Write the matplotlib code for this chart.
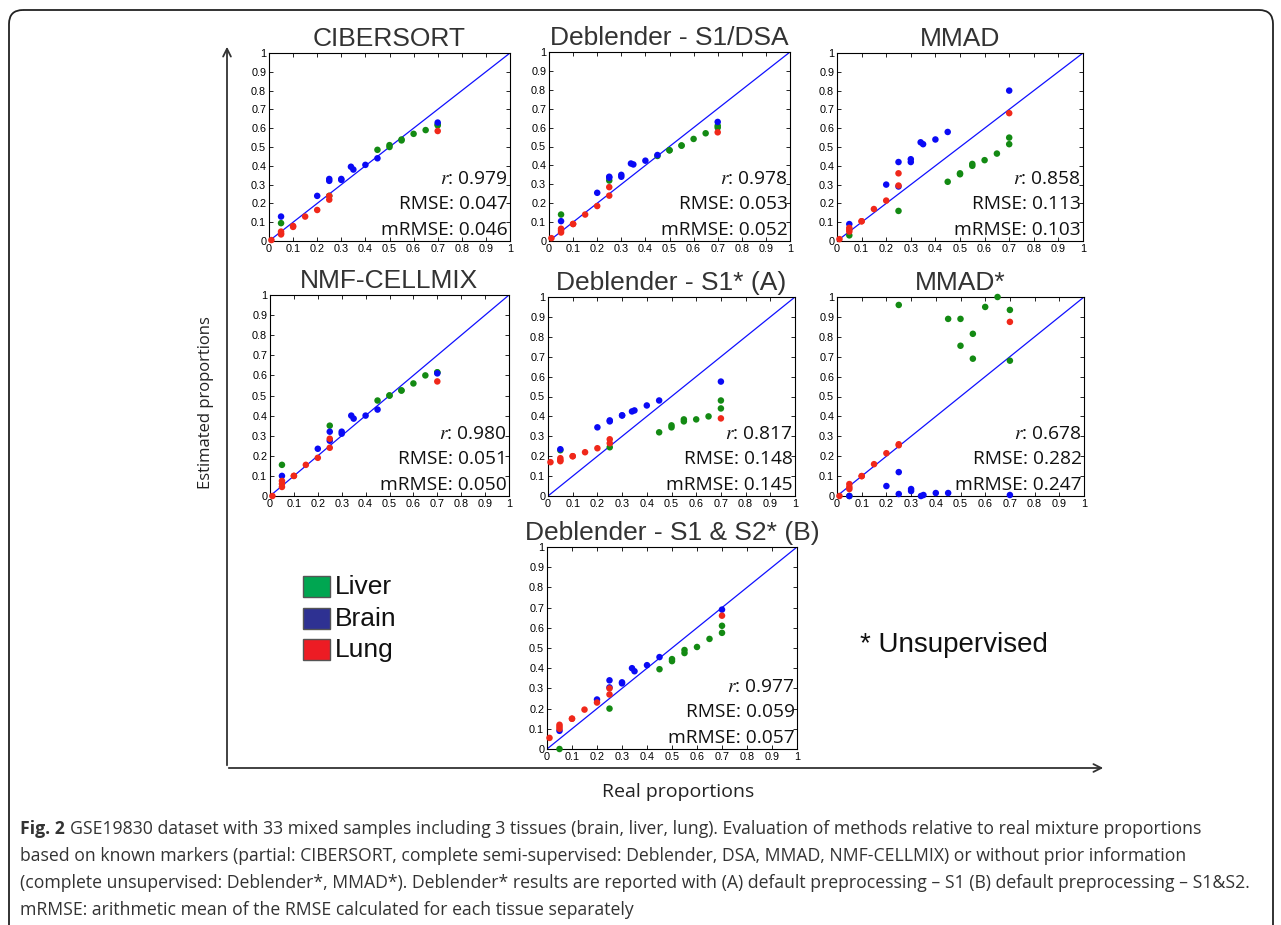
import matplotlib
matplotlib.use("Agg")
import matplotlib.pyplot as plt
from matplotlib.patches import FancyBboxPatch, Rectangle

plt.rcParams['mathtext.fontset'] = 'stix'

# real proportions of the 11 mixtures (liver, brain, lung)
liver_true = [0.05, 0.70, 0.25, 0.70, 0.45, 0.55, 0.50, 0.55, 0.50, 0.60, 0.65]
brain_true = [0.25, 0.05, 0.70, 0.25, 0.45, 0.20, 0.30, 0.30, 0.40, 0.35, 0.34]
lung_true = [0.70, 0.25, 0.05, 0.05, 0.10, 0.25, 0.20, 0.15, 0.10, 0.05, 0.01]

titles = ["CIBERSORT", "Deblender - S1/DSA", "MMAD", "NMF-CELLMIX",
          "Deblender - S1* (A)", "MMAD*", "Deblender - S1 & S2* (B)"]

liver_est = [
    [0.095, 0.615, 0.24, 0.62, 0.485, 0.54, 0.51, 0.535, 0.50, 0.57, 0.59],
    [0.14, 0.60, 0.32, 0.61, 0.45, 0.505, 0.48, 0.505, 0.48, 0.54, 0.57],
    [0.03, 0.55, 0.16, 0.515, 0.315, 0.41, 0.36, 0.40, 0.355, 0.43, 0.465],
    [0.155, 0.615, 0.35, 0.615, 0.475, 0.525, 0.50, 0.525, 0.50, 0.56, 0.60],
    [0.23, 0.48, 0.245, 0.44, 0.32, 0.385, 0.355, 0.375, 0.345, 0.385, 0.40],
    [0.0, 0.935, 0.96, 0.68, 0.89, 0.815, 0.89, 0.69, 0.755, 0.95, 1.0],
    [0.0, 0.61, 0.20, 0.575, 0.395, 0.49, 0.445, 0.475, 0.435, 0.505, 0.545],
]
brain_est = [
    [0.33, 0.13, 0.63, 0.32, 0.44, 0.24, 0.33, 0.325, 0.405, 0.38, 0.395],
    [0.34, 0.105, 0.63, 0.335, 0.455, 0.255, 0.35, 0.34, 0.425, 0.405, 0.41],
    [0.42, 0.09, 0.80, 0.29, 0.58, 0.30, 0.435, 0.42, 0.54, 0.515, 0.525],
    [0.32, 0.10, 0.61, 0.275, 0.43, 0.235, 0.32, 0.31, 0.40, 0.385, 0.40],
    [0.38, 0.235, 0.575, 0.375, 0.48, 0.345, 0.405, 0.405, 0.455, 0.43, 0.425],
    [0.12, 0.0, 0.005, 0.01, 0.015, 0.05, 0.035, 0.025, 0.015, 0.005, 0.0],
    [0.34, 0.09, 0.69, 0.305, 0.455, 0.245, 0.33, 0.325, 0.415, 0.385, 0.40],
]
lung_est = [
    [0.585, 0.24, 0.05, 0.04, 0.08, 0.22, 0.165, 0.13, 0.075, 0.035, 0.005],
    [0.575, 0.285, 0.065, 0.055, 0.09, 0.24, 0.185, 0.14, 0.09, 0.045, 0.015],
    [0.68, 0.36, 0.07, 0.06, 0.105, 0.295, 0.215, 0.17, 0.105, 0.05, 0.01],
    [0.57, 0.285, 0.075, 0.06, 0.10, 0.24, 0.19, 0.155, 0.10, 0.045, 0.0],
    [0.39, 0.285, 0.19, 0.18, 0.20, 0.265, 0.24, 0.22, 0.20, 0.175, 0.17],
    [0.875, 0.26, 0.06, 0.045, 0.10, 0.255, 0.215, 0.16, 0.10, 0.035, 0.0],
    [0.66, 0.30, 0.12, 0.11, 0.15, 0.27, 0.23, 0.195, 0.15, 0.10, 0.055],
]

r_vals = ["0.979", "0.978", "0.858", "0.980", "0.817", "0.678", "0.977"]
rmse_vals = ["0.047", "0.053", "0.113", "0.051", "0.148", "0.282", "0.059"]
mrmse_vals = ["0.046", "0.052", "0.103", "0.050", "0.145", "0.247", "0.057"]

tissues = ["Liver", "Brain", "Lung"]
legend_colors = ["#00a651", "#2e3192", "#ed1c24"]
dot_colors = ["#138a13", "#0a0af5", "#f0281a"]

W, H = 1281, 925
# axes boxes in pixels: left, top, right, bottom
boxes = [(269, 53, 510, 241), (549, 52, 790, 241), (837, 53, 1083, 241),
         (270, 295, 509, 496), (548, 297, 795, 496), (837, 297, 1084, 496),
         (547, 547, 797, 749)]

fig = plt.figure(figsize=(W / 100, H / 100), dpi=100)

# background layer in pixel coordinates
bg = fig.add_axes([0, 0, 1, 1])
bg.set_xlim(0, W)
bg.set_ylim(H, 0)
bg.axis("off")
bg.add_patch(FancyBboxPatch((9, 10), 1264, 930, boxstyle="round,pad=0,rounding_size=14",
                            fill=False, ec="#222222", lw=1.3))
bg.annotate("", xy=(227, 44), xytext=(227, 768),
            arrowprops=dict(arrowstyle="->", lw=1.3, color="#333333", mutation_scale=14))
bg.annotate("", xy=(1106, 768), xytext=(226, 768),
            arrowprops=dict(arrowstyle="->", lw=1.3, color="#333333", mutation_scale=14))
bg.text(206, 403, "Estimated proportions", rotation=90, ha="center", va="center",
        fontsize=12, family="Open Sans", color="#222222")
bg.text(678, 792, "Real proportions", ha="center", va="center",
        fontsize=14, family="Open Sans", color="#222222")

for i, t in enumerate(tissues):
    y0 = 576 + i * 31.5
    bg.add_patch(Rectangle((303, y0), 27, 21, fc=legend_colors[i], ec="#555555", lw=1))
    bg.text(335, y0 + 11, t, va="center", ha="left", fontsize=19,
            family="Liberation Sans", color="#111111")
bg.text(860, 645, "* Unsupervised", va="center", ha="left", fontsize=20,
        family="Liberation Sans", color="#111111")

caption = [
    ("GSE19830 dataset with 33 mixed samples including 3 tissues (brain, liver, lung). "
     "Evaluation of methods relative to real mixture proportions"),
    ("based on known markers (partial: CIBERSORT, complete semi-supervised: Deblender, DSA, "
     "MMAD, NMF-CELLMIX) or without prior information"),
    ("(complete unsupervised: Deblender*, MMAD*). Deblender* results are reported with (A) "
     "default preprocessing \u2013 S1 (B) default preprocessing \u2013 S1&S2."),
    "mRMSE: arithmetic mean of the RMSE calculated for each tissue separately",
]
cap_font = dict(fontsize=12.7, family="Open Sans", color="#333333", va="center")
t0 = bg.text(20, 829, "Fig. 2", fontweight="bold", **cap_font)
fig.canvas.draw()
bb = t0.get_window_extent()
bg.text(20 + bb.width + 5, 829, caption[0], **cap_font)
for k, line in enumerate(caption[1:]):
    bg.text(20, 856 + 27 * k, line, **cap_font)

ticks = [0, 0.1, 0.2, 0.3, 0.4, 0.5, 0.6, 0.7, 0.8, 0.9, 1]
tick_labels = ["0", "0.1", "0.2", "0.3", "0.4", "0.5", "0.6", "0.7", "0.8", "0.9", "1"]

for p in range(7):
    l, t, r, b = boxes[p]
    ax = fig.add_axes([l / W, 1 - b / H, (r - l) / W, (b - t) / H])
    ax.plot([0, 1], [0, 1], color="#1010ff", lw=0.9, zorder=1)
    for tr, est, c in zip([liver_true, brain_true, lung_true],
                          [liver_est[p], brain_est[p], lung_est[p]], dot_colors):
        ax.scatter(tr, est, s=22, color=c, edgecolors="none", zorder=3, clip_on=False)
    ax.set_xlim(0, 1)
    ax.set_ylim(0, 1)
    ax.set_xticks(ticks)
    ax.set_yticks(ticks)
    ax.set_xticklabels(tick_labels)
    ax.set_yticklabels(tick_labels)
    ax.tick_params(direction="in", length=3, width=0.6, labelsize=7.8, pad=2,
                   top=True, right=True)
    for lab in ax.get_xticklabels() + ax.get_yticklabels():
        lab.set_family("Liberation Sans")
    for s in ax.spines.values():
        s.set_linewidth(0.8)
    ax.set_title(titles[p], fontsize=19, family="Liberation Sans", color="#333333", pad=5)
    h = b - t
    txts = ["$r$: " + r_vals[p], "RMSE: " + rmse_vals[p], "mRMSE: " + mrmse_vals[p]]
    for txt, off in zip(txts, [62, 37, 11]):
        ax.text(0.99, off / h, txt, transform=ax.transAxes, ha="right", va="center",
                fontsize=13.8, family="Open Sans", color="#111111", zorder=4)

fig.savefig("out.png", dpi=100)
